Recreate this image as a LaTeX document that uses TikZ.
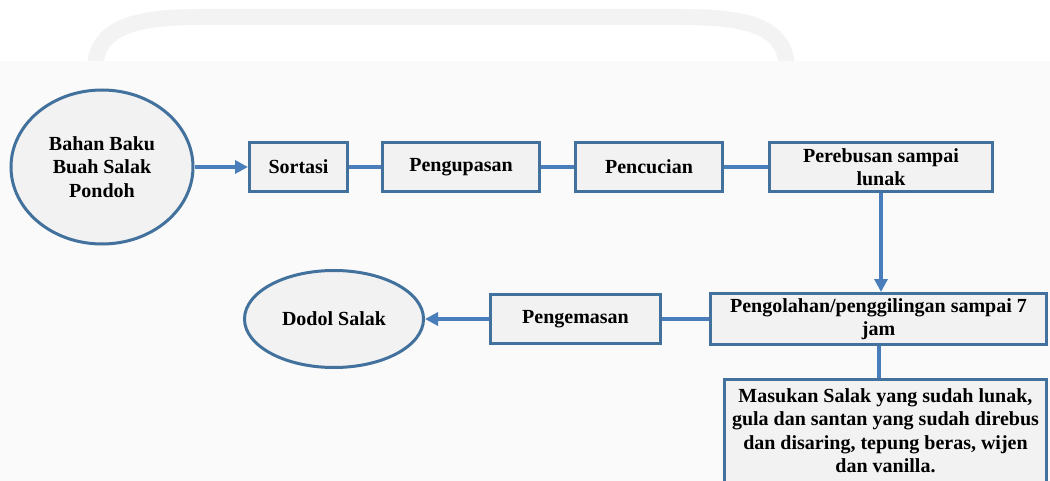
\documentclass[tikz,border=0pt]{standalone}
\usepackage{fontspec}
\setmainfont{Liberation Serif}
\usepackage{xcolor}
\usepackage{tikz}
\usetikzlibrary{arrows.meta, positioning, shapes.geometric}
\definecolor{boxblue}{HTML}{41719C}
\definecolor{lineblue}{HTML}{4A7EBB}
\definecolor{boxfill}{HTML}{F2F2F2}
\definecolor{bandgray}{HTML}{FAFAFA}
\definecolor{markgray}{HTML}{F3F3F3}

\begin{document}
\begin{tikzpicture}[
  x=0.5pt, y=-0.5pt,
  box/.style={draw=boxblue, fill=boxfill, line width=1.5pt, align=center, minimum height=24.5pt, inner sep=2pt, font=\fontsize{10}{11.75}\selectfont\bfseries},
  oval/.style={box, ellipse, inner sep=0pt},
  arrow/.style={draw=lineblue, line width=2pt, -{Triangle[length=6.5pt, width=6.5pt]}},
  link/.style={draw=lineblue, line width=2pt}
]
\useasboundingbox (0,0) rectangle (1050,481);
\fill[white] (0,0) rectangle (1050,481);
\draw[markgray, line width=8pt] (95,70) .. controls (95,25) and (140,17) .. (200,17) -- (680,17) .. controls (745,17) and (787,25) .. (787,70);
\fill[bandgray] (0,61) rectangle (1050,481);

\node[oval, minimum width=91pt, minimum height=77pt] (bahan) at (102,167) {Bahan Baku\\Buah Salak\\Pondoh};
\node[box, minimum width=49pt, right=26.75pt of bahan] (sortasi) {Sortasi};
\node[box, minimum width=78.5pt, right=16pt of sortasi] (kupas) {Pengupasan};
\node[box, minimum width=73.5pt, right=16.5pt of kupas] (cuci) {Pencucian};
\node[box, minimum width=111.5pt, right=22pt of cuci] (rebus) {Perebusan sampai\\lunak};
\node[box, minimum width=168pt, minimum height=25.5pt, below=49.5pt of rebus, xshift=-1.25pt] (olah) {Pengolahan/penggilingan sampai 7\\jam};
\node[box, minimum width=85pt, left=23.5pt of olah] (kemas) {Pengemasan};
\node[oval, minimum width=89.5pt, minimum height=48.5pt, left=32pt of kemas] (dodol) {Dodol Salak};
\node[box, minimum width=161pt, inner ysep=4.5pt, below=16pt of olah, xshift=3.5pt] (masuk) {Masukan Salak yang sudah lunak,\\gula dan santan yang sudah direbus\\dan disaring, tepung beras, wijen\\dan vanilla.};

\draw[arrow] (bahan) -- (sortasi);
\draw[link] (sortasi) -- (kupas);
\draw[link] (kupas) -- (cuci);
\draw[link] (cuci) -- (rebus);
\draw[arrow] (rebus.south) -- (rebus.south |- olah.north);
\draw[link] (olah) -- (kemas);
\draw[arrow] (kemas) -- (dodol);
\draw[link] (olah.south) -- (olah.south |- masuk.north);
\end{tikzpicture}
\end{document}
